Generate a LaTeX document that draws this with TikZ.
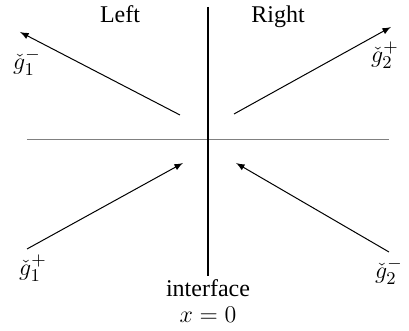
\documentclass[12pt,tikz,border=0pt]{standalone}
\usepackage{fontspec}
\setmainfont{Liberation Serif}
\usetikzlibrary{arrows,positioning}

\begin{document}
\begin{tikzpicture}[
    x=0.5pt, y=-0.5pt,
    arrow/.style={-latex, line width=0.5pt},
    wall/.style={line width=1pt},
    axis/.style={line width=0.5pt, gray},
    lbl/.style={inner sep=0pt, font=\fontsize{13}{15}\selectfont},
    side/.style={inner sep=0pt, anchor=base}
]
    \useasboundingbox (0,0) rectangle (409,331);

    % interface and axis
    \coordinate (top) at (208,7);
    \coordinate (bot) at (208,276);
    \coordinate (west) at (27,140);
    \coordinate (east) at (389,140);
    \draw [axis] (west) -- (east);
    \draw [wall] (top) -- (bot);

    \node [side] (left) at (120,23) {Left};
    \node [side] (right) at (278,23) {Right};
    \node [side] (iface) at (208,297) {interface};
    \node [side] (xzero) at (208,323) {$x=0$};

    % outgoing waves
    \coordinate (a1) at (180,115);
    \coordinate (a2) at (234,114);
    \node [lbl] (g1m) at (27,62) {$\check{g}_1^-$};
    \node [lbl] (g2p) at (385,55) {$\check{g}_2^+$};
    \coordinate (h1) at (20,32);
    \coordinate (h2) at (391,27);
    \draw [arrow] (a1) -- (h1);
    \draw [arrow] (a2) -- (h2);

    % incoming waves
    \coordinate (t3) at (27,249);
    \coordinate (t4) at (389,252);
    \coordinate (h3) at (183,163);
    \coordinate (h4) at (236,163);
    \node [lbl] (g1p) at (33,268) {$\check{g}_1^+$};
    \node [lbl] (g2m) at (389,271) {$\check{g}_2^-$};
    \draw [arrow] (t3) -- (h3);
    \draw [arrow] (t4) -- (h4);

\end{tikzpicture}
\end{document}
